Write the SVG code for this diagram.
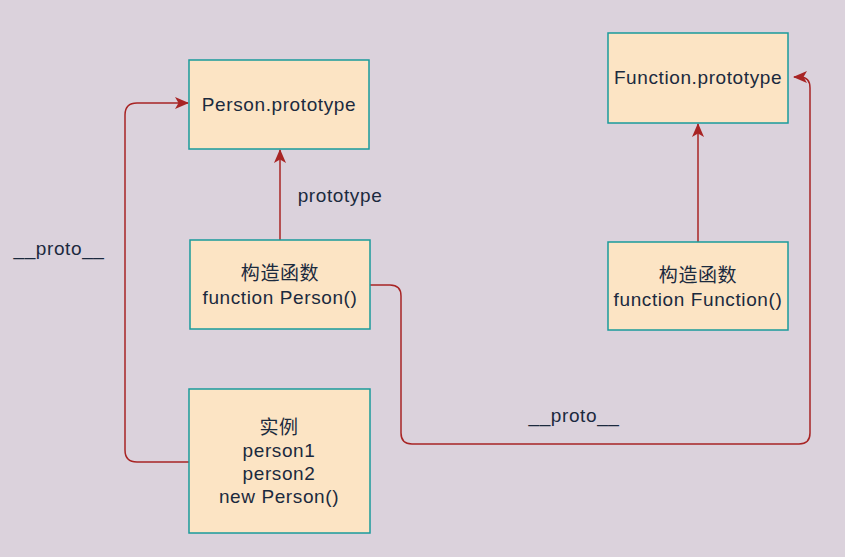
<svg xmlns="http://www.w3.org/2000/svg" width="845" height="557" viewBox="0 0 845 557">
<style>
.node rect{fill:#fce4c4;stroke:#1a9b9b;stroke-width:1.5}
.t{font-family:"Liberation Sans","Noto Sans CJK SC",sans-serif;font-size:19px;letter-spacing:0.6px;fill:#1b2a3e;text-anchor:middle}
.cjk{font-family:"Noto Sans CJK SC",sans-serif;font-size:19px}
.edge{fill:none;stroke:#a82424;stroke-width:1.5}
</style>
<defs>
<marker id="arr" viewBox="0 0 14 12" refX="13" refY="6" markerWidth="14" markerHeight="12" markerUnits="userSpaceOnUse" orient="auto">
<path d="M0,0 L14,6 L0,12 L3.5,6 Z" fill="#a82424"/>
</marker>
</defs>
<rect width="845" height="557" fill="#dbd2dc"/>
<g id="connectors">
<path class="edge" d="M189,462 L137,462 Q125,462 125,450 L125,115 Q125,103 137,103 L188,103" marker-end="url(#arr)"/>
<path class="edge" d="M280,240 L280,150" marker-end="url(#arr)"/>
<path class="edge" d="M370,285 L390,285 Q401,285 401,296 L401,433 Q401,444 412,444 L799,444 Q810,444 810,433 L810,88 Q810,77 800,77 L794,77" marker-end="url(#arr)"/>
<path class="edge" d="M698,242 L698,124" marker-end="url(#arr)"/>
<text class="t" x="340" y="202">prototype</text>
<text class="t" x="59" y="255">__proto__</text>
<text class="t" x="574" y="422">__proto__</text>
</g>
<g id="person-prototype" class="node">
<rect x="189" y="60" width="180" height="89"/>
<text class="t" x="279" y="111">Person.prototype</text>
</g>
<g id="person-constructor" class="node">
<rect x="190" y="240" width="180" height="89"/>
<text class="t" x="280" y="280"><tspan class="cjk">构造函数</tspan></text>
<text class="t" x="280" y="304">function Person()</text>
</g>
<g id="instance" class="node">
<rect x="189" y="389" width="181" height="144"/>
<text class="t" x="279" y="434"><tspan class="cjk">实例</tspan></text>
<text class="t" x="279" y="457">person1</text>
<text class="t" x="279" y="480">person2</text>
<text class="t" x="279" y="503">new Person()</text>
</g>
<g id="function-prototype" class="node">
<rect x="608" y="33" width="180" height="90"/>
<text class="t" x="698" y="84">Function.prototype</text>
</g>
<g id="function-constructor" class="node">
<rect x="608" y="242" width="180" height="88"/>
<text class="t" x="698" y="282"><tspan class="cjk">构造函数</tspan></text>
<text class="t" x="698" y="306">function Function()</text>
</g>
</svg>
